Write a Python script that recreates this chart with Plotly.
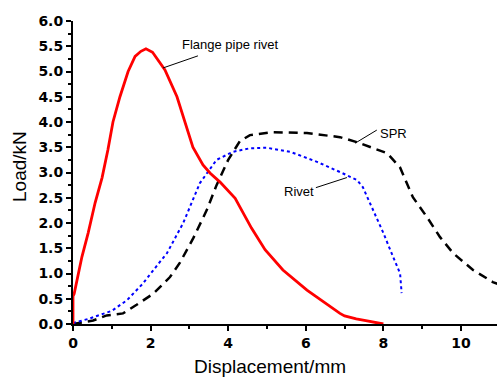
import plotly.graph_objects as go

# Flange pipe rivet (red solid)
fpr_x = [0.0, 0.0, 0.03, 0.1, 0.23, 0.39, 0.57, 0.75, 0.9, 1.03, 1.21, 1.42, 1.6, 1.75, 1.88, 2.05, 2.37, 2.68, 2.89, 3.09, 3.35, 3.53, 3.79, 4.18, 4.3, 4.6, 4.95, 5.41, 6.03, 6.55, 6.88, 7.0, 7.3, 7.58, 8.0]
fpr_y = [0.0, 0.55, 0.6, 0.87, 1.33, 1.8, 2.4, 2.9, 3.45, 4.0, 4.5, 5.0, 5.3, 5.4, 5.45, 5.38, 5.03, 4.5, 3.98, 3.5, 3.15, 2.99, 2.81, 2.49, 2.32, 1.9, 1.47, 1.07, 0.67, 0.38, 0.21, 0.16, 0.1, 0.06, 0.0]

# SPR (black dashed)
spr_x = [0.0, 0.52, 0.87, 1.29, 1.64, 2.07, 2.5, 2.76, 3.1, 3.45, 3.7, 4.0, 4.3, 4.56, 5.15, 6.03, 6.88, 7.32, 8.1, 8.43, 8.76, 9.12, 9.46, 9.8, 10.31, 10.82, 11.0]
spr_y = [0.0, 0.07, 0.17, 0.21, 0.38, 0.6, 0.93, 1.22, 1.7, 2.26, 2.75, 3.25, 3.62, 3.74, 3.8, 3.78, 3.7, 3.6, 3.38, 3.1, 2.51, 2.12, 1.72, 1.4, 1.07, 0.83, 0.78]

# Rivet (blue dotted)
riv_x = [0.0, 0.39, 0.77, 1.0, 1.39, 1.8, 2.24, 2.42, 2.84, 3.2, 3.27, 3.7, 4.12, 4.56, 5.0, 5.6, 6.29, 6.88, 7.32, 7.47, 7.73, 8.0, 8.25, 8.43, 8.47]
riv_y = [0.02, 0.1, 0.2, 0.26, 0.47, 0.8, 1.23, 1.4, 2.0, 2.65, 2.79, 3.25, 3.41, 3.48, 3.49, 3.41, 3.21, 3.01, 2.85, 2.71, 2.26, 1.8, 1.33, 1.0, 0.61]

x_ticks = [0, 2, 4, 6, 8, 10]
y_ticks = [0.0, 0.5, 1.0, 1.5, 2.0, 2.5, 3.0, 3.5, 4.0, 4.5, 5.0, 5.5, 6.0]

FONT = "Liberation Sans"
TICKFONT = dict(family="DejaVu Sans", size=14, color="black", weight="bold")

fig = go.Figure()
fig.add_trace(go.Scatter(x=spr_x, y=spr_y, mode="lines",
                         line=dict(color="black", width=2.5, dash="9px,6px")))
fig.add_trace(go.Scatter(x=riv_x, y=riv_y, mode="lines",
                         line=dict(color="#0000ff", width=2, dash="dot")))
fig.add_trace(go.Scatter(x=fpr_x, y=fpr_y, mode="lines",
                         line=dict(color="#ff0000", width=2.8)))

# Labels with leader lines
fig.add_annotation(x=2.76, y=5.54, xref="x", yref="y", text="Flange pipe rivet", showarrow=False,
                   xanchor="left", yanchor="middle", font=dict(family=FONT, size=13, color="black"))
fig.add_shape(type="line", xref="x", yref="y", x0=3.22, y0=5.31, x1=2.32, y1=5.07,
              line=dict(color="black", width=1))
fig.add_annotation(x=7.85, y=3.78, xref="x", yref="y", text="SPR", showarrow=False,
                   xanchor="left", yanchor="middle", font=dict(family=FONT, size=13, color="black"))
fig.add_shape(type="line", xref="x", yref="y", x0=7.83, y0=3.84, x1=7.27, y1=3.58,
              line=dict(color="black", width=1))
fig.add_annotation(x=5.38, y=2.63, xref="x", yref="y", text="Rivet", showarrow=False,
                   xanchor="left", yanchor="middle", font=dict(family=FONT, size=13, color="black"))
fig.add_shape(type="line", xref="x", yref="y", x0=6.26, y0=2.7, x1=7.06, y1=2.9,
              line=dict(color="black", width=1))

fig.update_layout(
    width=497, height=378,
    margin=dict(l=73, r=0, t=21, b=54),
    plot_bgcolor="white", paper_bgcolor="white",
    showlegend=False,
    font=dict(family=FONT, color="black"),
)
# Axis titles
fig.add_annotation(x=(270 - 73) / 424, y=-(366 - 324) / 303, xref="paper", yref="paper",
                   text="Displacement/mm", showarrow=False, xanchor="center", yanchor="middle",
                   font=dict(family=FONT, size=19, color="black"))
fig.add_annotation(x=-(73 - 20) / 424, y=(324 - 167) / 303, xref="paper", yref="paper",
                   text="Load/kN", showarrow=False, xanchor="center", yanchor="middle", textangle=-90,
                   font=dict(family=FONT, size=19, color="black"))

fig.update_xaxes(
    range=[0, 424 / 38.8], tickvals=x_ticks, ticktext=[str(v) for v in x_ticks],
    showgrid=False, zeroline=False, showline=True, linecolor="black", linewidth=2,
    ticks="outside", ticklen=5, tickwidth=2, tickcolor="black",
    tickfont=TICKFONT,
    minor=dict(dtick=1, tick0=0, ticks="outside", ticklen=3, tickwidth=1.5, tickcolor="black"),
)
fig.update_yaxes(
    range=[0, 6], tickvals=y_ticks, ticktext=[f"{v:.1f}" for v in y_ticks],
    showgrid=False, zeroline=False, showline=True, linecolor="black", linewidth=2,
    ticks="outside", ticklen=5, tickwidth=2, tickcolor="black",
    tickfont=TICKFONT,
    minor=dict(dtick=0.25, tick0=0, ticks="outside", ticklen=3, tickwidth=1.5, tickcolor="black"),
)

fig.write_html("out.html")
